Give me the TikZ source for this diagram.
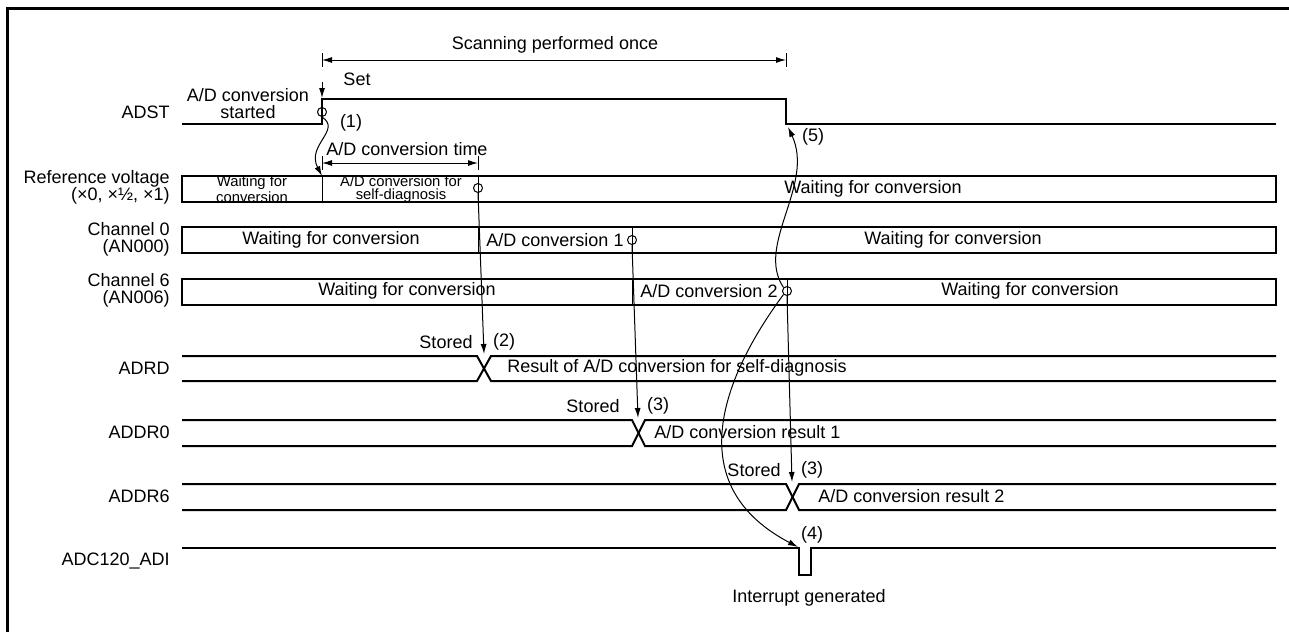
\documentclass[tikz,border=0pt]{standalone}
\usepackage{fontspec}
\setmainfont{Liberation Sans}
\usetikzlibrary{arrows.meta,positioning}

\begin{document}
\begin{tikzpicture}[>={Latex[length=5pt,width=3pt]},x=0.5pt,y=-0.5pt,font=\fontsize{9}{8.5}\selectfont]
  \tikzstyle{sig}=[line width=1pt]
  \tikzstyle{divline}=[line width=0.5pt]
  \tikzstyle{lbl}=[anchor=east,align=right,inner sep=0pt]
  \tikzstyle{txt}=[inner sep=0pt,align=center]
  \tikzstyle{small}=[inner sep=0pt,align=center,font=\fontsize{7.4}{6.6}\selectfont]
  \tikzstyle{probe}=[circle,draw,inner sep=0pt,minimum size=4.5pt,line width=0.5pt]
  \tikzstyle{link}=[line width=0.5pt,->]
  \useasboundingbox (0,0) rectangle (1289,632);
  \draw[line width=1.5pt] (7,632) -- (7,8) -- (1289,8);

  \node[lbl] (adst) at (170,112) {ADST};
  \node[lbl] (refv) at (170,187) {Reference voltage\\(×0, ×½, ×1)};
  \node[lbl] (ch0) at (170,239) {Channel 0\\(AN000)};
  \node[lbl] (ch6) at (170,290) {Channel 6\\(AN006)};
  \node[lbl] (adrd) at (170,368) {ADRD};
  \node[lbl] (addr0) at (170,432) {ADDR0};
  \node[lbl] (addr6) at (170,496) {ADDR6};
  \node[lbl] (adi) at (170,561) {ADC120\_ADI};

  \draw[sig] (182,124) -- (322,124) -- (322,99) -- (786,99) -- (786,124) -- (1276,124);
  \draw[sig] (182,176) rectangle (1276,202);
  \draw[sig] (182,227) rectangle (1276,253);
  \draw[sig] (182,279) rectangle (1276,305);
  \draw[divline] (322,176) -- (322,202);
  \draw[divline] (478,176) -- (478,202);
  \draw[divline] (478,227) -- (478,253);
  \draw[divline] (632,227) -- (632,253);
  \draw[divline] (632,279) -- (632,305);
  \draw[divline] (787,279) -- (787,305);
  \draw[sig] (182,356) -- (477,356) -- (491,381) -- (1276,381);
  \draw[sig] (182,381) -- (477,381) -- (491,356) -- (1276,356);
  \draw[sig] (182,420) -- (632,420) -- (645,446) -- (1276,446);
  \draw[sig] (182,446) -- (632,446) -- (645,420) -- (1276,420);
  \draw[sig] (182,484) -- (786,484) -- (799,510) -- (1276,510);
  \draw[sig] (182,510) -- (786,510) -- (799,484) -- (1276,484);
  \draw[sig] (182,548) -- (799,548) -- (799,575) -- (811,575) -- (811,548) -- (1276,548);

  \node[probe] (c1) at (322,112) {};
  \node[probe] (c2) at (478,188) {};
  \node[probe] (c3) at (632,240) {};
  \node[probe] (c4) at (787,291) {};

  \coordinate (scanL) at (322,60);
  \coordinate (scanR) at (786,60);
  \coordinate (setTop) at (322,82);
  \coordinate (rise) at (322,98);
  \coordinate (timeL) at (322,163);
  \coordinate (timeR) at (478,163);
  \coordinate (rvtop) at (322,176);
  \coordinate (fall) at (788,127);
  \coordinate (sd) at (484,354);
  \coordinate (s0) at (638,418);
  \coordinate (s6) at (792,482);
  \coordinate (pulse) at (798,547);

  \draw[divline] (322,53) -- (322,67);
  \draw[divline] (786,53) -- (786,67);
  \draw[link,<->] (scanL) -- (scanR);
  \node[txt] (scan) at (555,45) {Scanning performed once};
  \draw[link] (setTop) -- (rise);
  \node[txt] (set) at (357,79) {Set};
  \node[txt] (start) at (248,104) {A/D conversion\\started};
  \draw[divline] (322,156) -- (322,170);
  \draw[divline] (478,156) -- (478,170);
  \draw[link,<->] (timeL) -- (timeR);
  \node[txt] (convtime) at (407,149) {A/D conversion time};
  \draw[link] (c1.south) .. controls (342,130) and (306,145) .. (rvtop);
  \node[txt] (n1) at (351,123) {(1)};

  \node[small] (rvwait) at (252,189) {Waiting for\\conversion};
  \node[small] (rvself) at (401,189) {A/D conversion for\\self-diagnosis};
  \node[txt] (rvwait2) at (873,189) {Waiting for conversion};
  \node[txt] (ch0wait) at (331,240) {Waiting for conversion};
  \node[txt] (ch0conv) at (555,240) {A/D conversion 1};
  \node[txt] (ch0wait2) at (953,240) {Waiting for conversion};
  \node[txt] (ch6wait) at (407,291) {Waiting for conversion};
  \node[txt] (ch6conv) at (709,291) {A/D conversion 2};
  \node[txt] (ch6wait2) at (1030,291) {Waiting for conversion};

  \draw[link] (c2.south) -- (sd);
  \draw[link] (c3.south) -- (s0);
  \draw[link] (c4.south) -- (s6);
  \draw[link] (c4.south west) .. controls (735,360) and (670,480) .. (pulse);
  \draw[link] (c4.north west) .. controls (755,245) and (815,185) .. (fall);
  \node[txt] (n5) at (813,137) {(5)};

  \node[txt] (st2) at (446,342) {Stored};
  \node[txt] (n2) at (504,342) {(2)};
  \node[txt,anchor=west] (res) at (507,368) {Result of A/D conversion for self-diagnosis};
  \node[txt] (st0) at (593,406) {Stored};
  \node[txt] (n3a) at (658,406) {(3)};
  \node[txt,anchor=west] (res1) at (654,432) {A/D conversion result 1};
  \node[txt] (st6) at (754,470) {Stored};
  \node[txt] (n3b) at (812,470) {(3)};
  \node[txt,anchor=west] (res2) at (818,496) {A/D conversion result 2};
  \node[txt] (n4) at (812,535) {(4)};
  \node[txt] (irq) at (809,598) {Interrupt generated};
\end{tikzpicture}
\end{document}
